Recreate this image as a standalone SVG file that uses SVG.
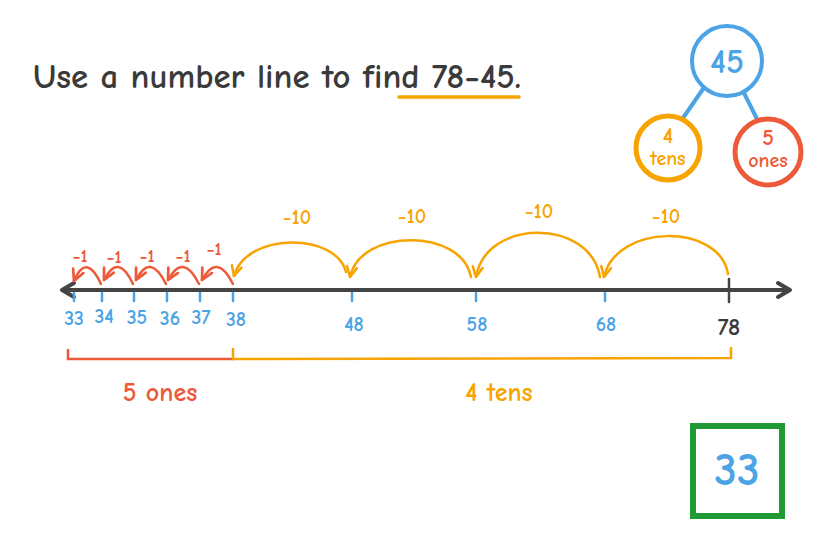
<svg xmlns="http://www.w3.org/2000/svg" width="837" height="554" viewBox="0 0 837 554">
<style>
  .hand { font-family: "Comic Neue", "Noto Sans", "Liberation Sans", sans-serif; font-weight: bold; }
  .blue { fill: #4ca3e6; }
  .orange { fill: #f7a400; }
  .red { fill: #ec5a3a; }
  .dark { fill: #3a3a3a; }
  .tick { stroke: #4ca3e6; stroke-width: 2.5; stroke-linecap: round; }
  .rarc { fill: none; stroke: #ec5a3a; stroke-width: 2.5; stroke-linecap: round; marker-end: url(#ahr); }
  .oarc { fill: none; stroke: #f7a400; stroke-width: 2.5; stroke-linecap: round; marker-end: url(#aho); }
</style>
<defs>
  <marker id="ahr" viewBox="0 0 10 10" refX="9" refY="5" markerWidth="5.5" markerHeight="5.5" orient="auto" markerUnits="strokeWidth">
    <path d="M1,1 L9,5 L1,9" fill="none" stroke="#ec5a3a" stroke-width="2" stroke-linecap="round" stroke-linejoin="round"/>
  </marker>
  <marker id="aho" viewBox="0 0 10 10" refX="9" refY="5" markerWidth="5" markerHeight="5" orient="auto" markerUnits="strokeWidth">
    <path d="M1,1 L9,5 L1,9" fill="none" stroke="#f7a400" stroke-width="2" stroke-linecap="round" stroke-linejoin="round"/>
  </marker>
</defs>
<rect width="837" height="554" fill="#ffffff"/>

<g id="title">
  <text class="hand dark" x="33" y="88" font-size="34" textLength="488" lengthAdjust="spacingAndGlyphs">Use a number line to find 78−45.</text>
  <line x1="399" y1="97" x2="519" y2="97" stroke="#f7a400" stroke-width="3.5" stroke-linecap="round"/>
</g>

<g id="connectors">
  <line x1="703" y1="89" x2="683" y2="118" stroke="#4ca3e6" stroke-width="4" stroke-linecap="round"/>
  <line x1="743" y1="91" x2="757" y2="119" stroke="#4ca3e6" stroke-width="4" stroke-linecap="round"/>
</g>

<g id="node-45">
  <circle cx="727" cy="61" r="35" fill="#fff" stroke="#4ca3e6" stroke-width="4"/>
  <text class="hand blue" x="727" y="73" font-size="34" text-anchor="middle">45</text>
</g>
<g id="node-4tens">
  <circle cx="668" cy="148" r="32" fill="#fff" stroke="#f7a400" stroke-width="5"/>
  <text class="hand orange" x="668" y="143" font-size="22" text-anchor="middle">4</text>
  <text class="hand orange" x="668" y="165" font-size="20" text-anchor="middle">tens</text>
</g>
<g id="node-5ones">
  <circle cx="768" cy="152" r="33" fill="#fff" stroke="#ec5a3a" stroke-width="5"/>
  <text class="hand red" x="768" y="145" font-size="22" text-anchor="middle">5</text>
  <text class="hand red" x="768" y="167" font-size="20" text-anchor="middle">ones</text>
</g>

<g id="number-line">
  <line x1="66" y1="290" x2="786" y2="290" stroke="#444" stroke-width="4" stroke-linecap="round"/>
  <path d="M74,283 L62,290 L74,297" fill="none" stroke="#444" stroke-width="4" stroke-linecap="round" stroke-linejoin="round"/>
  <path d="M778,283 L790,290 L778,297" fill="none" stroke="#444" stroke-width="4" stroke-linecap="round" stroke-linejoin="round"/>
  <line class="tick" x1="74" y1="293" x2="74" y2="301"/>
  <line class="tick" x1="102" y1="293" x2="102" y2="301"/>
  <line class="tick" x1="134" y1="293" x2="134" y2="301"/>
  <line class="tick" x1="167" y1="293" x2="167" y2="301"/>
  <line class="tick" x1="200" y1="293" x2="200" y2="301"/>
  <line class="tick" x1="233" y1="293" x2="233" y2="301"/>
  <line class="tick" x1="352" y1="293" x2="352" y2="301"/>
  <line class="tick" x1="476" y1="293" x2="476" y2="301"/>
  <line class="tick" x1="605" y1="293" x2="605" y2="301"/>
  <line x1="729" y1="279" x2="729" y2="302" stroke="#444" stroke-width="2.5" stroke-linecap="round"/>
</g>

<g id="labels">
  <g class="hand blue" font-size="20" text-anchor="middle">
    <text x="74" y="325">33</text>
    <text x="104" y="323">34</text>
    <text x="137" y="324">35</text>
    <text x="170" y="325">36</text>
    <text x="201" y="324">37</text>
    <text x="236" y="326">38</text>
    <text x="354" y="331">48</text>
    <text x="477" y="331">58</text>
    <text x="606" y="331">68</text>
  </g>
  <text class="hand dark" x="729" y="335" font-size="24" text-anchor="middle">78</text>
</g>

<g id="jumps-ones">
  <path class="rarc" d="M233,284 Q217,252 202,280"/>
  <path class="rarc" d="M199,284 Q183,252 168,280"/>
  <path class="rarc" d="M166,284 Q150,252 136,280"/>
  <path class="rarc" d="M133,284 Q118,252 104,280"/>
  <path class="rarc" d="M101,284 Q86,252 74,281"/>
  <g class="hand red" font-size="18" text-anchor="middle">
    <text x="80" y="262">−1</text>
    <text x="114" y="263">−1</text>
    <text x="147" y="262">−1</text>
    <text x="183" y="262">−1</text>
    <text x="214" y="255">−1</text>
  </g>
</g>

<g id="jumps-tens">
  <path class="oarc" d="M728,274 C720,223 616,223 604,277"/>
  <path class="oarc" d="M600,277 C590,218 486,218 476,277"/>
  <path class="oarc" d="M471,277 C462,228 360,228 350,277"/>
  <path class="oarc" d="M346,272 C336,232 246,232 234,276"/>
  <g class="hand orange" font-size="20" text-anchor="middle">
    <text x="666" y="223">−10</text>
    <text x="539" y="218">−10</text>
    <text x="412" y="223">−10</text>
    <text x="297" y="224">−10</text>
  </g>
</g>

<g id="brackets">
  <path d="M68,350 L68,359 L233,359" fill="none" stroke="#ec5a3a" stroke-width="2.5" stroke-linecap="round"/>
  <path d="M233,349 L233,359 L731,358 L731,348" fill="none" stroke="#f7a400" stroke-width="2.5" stroke-linecap="round"/>
  <text class="hand red" x="160" y="401" font-size="26" text-anchor="middle">5 ones</text>
  <text class="hand orange" x="499" y="401" font-size="26" text-anchor="middle">4 tens</text>
</g>

<g id="answer">
  <rect x="693" y="426" width="89" height="90" fill="#fff" stroke="#1f9a35" stroke-width="6"/>
  <text class="hand blue" x="737" y="485" font-size="46" text-anchor="middle">33</text>
</g>
</svg>
